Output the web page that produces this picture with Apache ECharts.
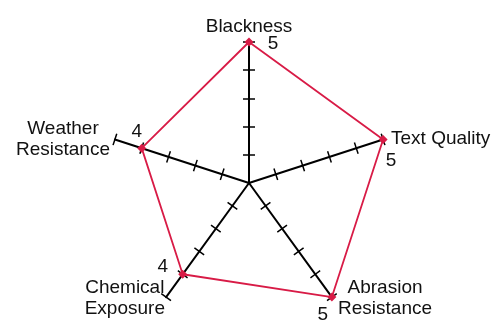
<!DOCTYPE html>
<html>
<head>
<meta charset="utf-8">
<script src="https://cdn.jsdelivr.net/npm/echarts@6/dist/echarts.min.js"></script>
<style>
  html, body { margin: 0; background: #fff; }
  #chart { width: 495px; height: 320px; }
</style>
</head>
<body>
<div id="chart"></div>
<script>
// indicators listed counter-clockwise from the top, as echarts places them
const indicators = ['Blackness', 'Weather\nResistance', 'Chemical\nExposure', 'Abrasion\nResistance', 'Text Quality']
const scores = [5, 4, 4, 5, 5]
const maxScore = 5

// where each value label sits relative to its point, and extra room for each axis name
const labelOffsets = [[24, 2], [-5, -16], [-20, -7], [-9, 18], [8, 21]]
const namePadding = [[0, 0, 6, 0], [0, 3, 0, 0], [0, 0, 0, 0], [0, 0, 0, 5], [0, 0, 0, 6]]

const red = '#d81b46'
const font = 'Liberation Sans, Arial, sans-serif'
const outerR = 141

const myChart = echarts.init(document.getElementById('chart'))

const rich = {}
indicators.forEach(function(name, i) {
  rich['n' + i] = { align: 'center', padding: namePadding[i], fontSize: 19, fontFamily: font, color: '#111', lineHeight: 21 }
})

function indicatorList(min) {
  return indicators.map(function(name) {
    return { name: name, min: min, max: maxScore }
  })
}

// tick radars start at 1 so no tick is drawn at the centre
function tickRadar(len) {
  return {
    center: [249, 183],
    radius: [outerR / maxScore, outerR],
    startAngle: 90,
    splitNumber: maxScore - 1,
    indicator: indicatorList(1),
    axisName: { show: false },
    axisLine: { show: false },
    splitLine: { show: false },
    splitArea: { show: false },
    axisTick: { show: true, length: len, lineStyle: { color: '#000', width: 1.5 } }
  }
}

const option = {
  animation: false,
  radar: [
    {
      center: [249, 183],
      radius: outerR,
      startAngle: 90,
      splitNumber: maxScore,
      indicator: indicatorList(0),
      nameGap: 2,
      axisName: {
        color: '#111',
        fontSize: 19,
        fontFamily: font,
        formatter: function(name) {
          const i = indicators.indexOf(name)
          return name.split('\n').map(function(line) {
            return '{n' + i + '|' + line + '}'
          }).join('\n')
        },
        rich: rich
      },
      axisLine: { lineStyle: { color: '#000', width: 2 } },
      axisTick: { show: false },
      splitLine: { show: false },
      splitArea: { show: false }
    },
    tickRadar(6),
    tickRadar(-6)
  ],
  series: [{
    type: 'radar',
    radarIndex: 0,
    silent: true,
    data: [{
      value: scores,
      symbol: 'diamond',
      symbolSize: 9,
      itemStyle: { color: red },
      lineStyle: { color: red, width: 1.8 }
    }].concat(scores.map(function(v, i) {
      return {
        value: scores.map(function(s, j) { return j === i ? s : '-' }),
        symbol: 'diamond',
        symbolSize: 9,
        itemStyle: { color: 'rgba(0,0,0,0)' },
        lineStyle: { width: 0, opacity: 0 },
        label: {
          show: true,
          position: 'inside',
          offset: labelOffsets[i],
          color: '#111',
          fontSize: 19,
          fontFamily: font,
          textBorderWidth: 0
        }
      }
    }))
  }]
}

myChart.setOption(option)
</script>
</body>
</html>
